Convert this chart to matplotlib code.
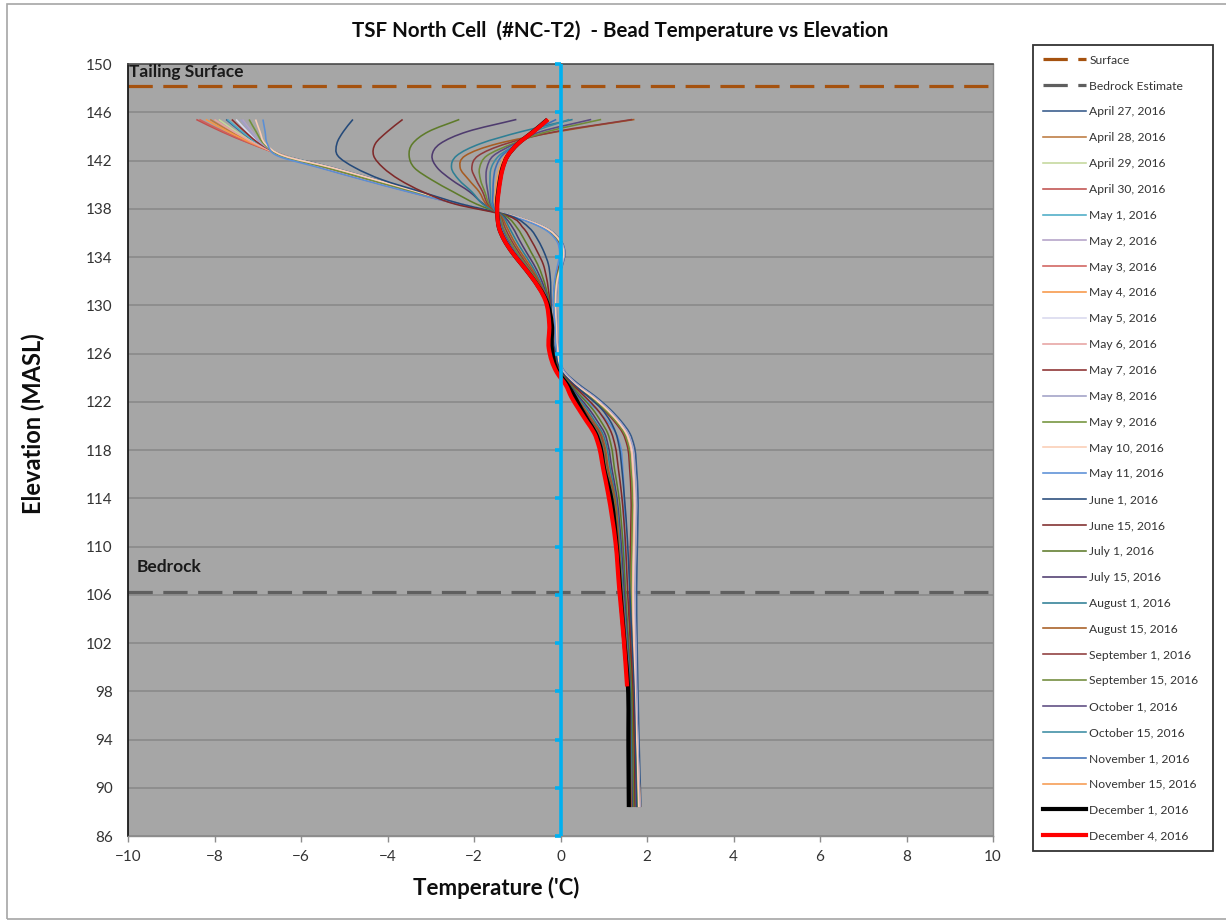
import numpy as np
import matplotlib
matplotlib.use("Agg")
import matplotlib.pyplot as plt
from matplotlib.path import Path
from matplotlib.patches import PathPatch, Rectangle
from matplotlib.lines import Line2D

plt.rcParams['font.family'] = ['Lato', 'DejaVu Sans']

# ---------------------------------------------------------------- data
# Thermistor bead elevations (m above sea level), top to bottom
elevation = [145.4, 144.4, 143.4, 142.4, 141.4, 140.4, 139.4, 138.4,
             137.4, 136.4, 135.4, 134.4, 133.4, 132.4, 130.4, 128.4, 126.4,
             124.4, 123.4, 122.4, 121.4, 120.4, 119.4, 118.4, 116.4, 114.4,
             110.4, 106.4, 102.4, 98.4, 93.4, 88.4]

surface_elev = 148.2
bedrock_elev = 106.25

# Bead temperatures (deg C) for each reading date
apr27 = [-7.73, -7.39, -7.00, -6.37, -5.26, -4.26, -3.28, -2.33, -1.08, -0.33, 0.00, 0.10, 0.05, -0.04, -0.10, -0.08, -0.05,
         0.12, 0.44, 0.82, 1.14, 1.40, 1.60, 1.70, 1.76, 1.79, 1.78, 1.76, 1.77, 1.79, 1.82, 1.86]
apr28 = [-8.10, -7.63, -7.09, -6.40, -5.45, -4.45, -3.43, -2.37, -1.11, -0.36, -0.04, 0.06, 0.01, -0.07, -0.13, -0.11, -0.08,
         0.08, 0.38, 0.76, 1.08, 1.34, 1.54, 1.64, 1.70, 1.73, 1.72, 1.70, 1.72, 1.74, 1.78, 1.82]
apr29 = [-7.90, -7.50, -7.04, -6.38, -5.32, -4.32, -3.32, -2.34, -1.10, -0.35, -0.02, 0.07, 0.02, -0.06, -0.12, -0.10, -0.07,
         0.07, 0.36, 0.74, 1.06, 1.32, 1.52, 1.62, 1.68, 1.71, 1.70, 1.68, 1.70, 1.72, 1.77, 1.81]
apr30 = [-8.42, -7.84, -7.17, -6.41, -5.53, -4.53, -3.48, -2.38, -1.12, -0.37, -0.05, 0.05, 0.00, -0.08, -0.14, -0.12, -0.09,
         0.06, 0.34, 0.72, 1.04, 1.30, 1.50, 1.60, 1.66, 1.69, 1.68, 1.66, 1.68, 1.70, 1.76, 1.80]
may01 = [-7.70, -7.37, -6.99, -6.42, -5.39, -4.39, -3.38, -2.36, -1.11, -0.36, -0.03, 0.06, 0.01, -0.07, -0.13, -0.11, -0.08,
         0.05, 0.32, 0.70, 1.02, 1.28, 1.48, 1.58, 1.64, 1.67, 1.66, 1.64, 1.66, 1.68, 1.75, 1.79]
may02 = [-7.35, -7.14, -6.90, -6.41, -5.30, -4.30, -3.31, -2.35, -1.10, -0.35, -0.03, 0.07, 0.02, -0.06, -0.12, -0.10, -0.07,
         0.08, 0.37, 0.75, 1.07, 1.33, 1.53, 1.63, 1.69, 1.72, 1.71, 1.69, 1.71, 1.73, 1.77, 1.82]
may03 = [-8.35, -7.79, -7.15, -6.41, -5.52, -4.52, -3.48, -2.39, -1.13, -0.38, -0.06, 0.04, -0.01, -0.09, -0.15, -0.12, -0.09,
         0.04, 0.30, 0.68, 1.00, 1.26, 1.46, 1.56, 1.62, 1.65, 1.64, 1.62, 1.64, 1.66, 1.74, 1.78]
may04 = [-8.20, -7.69, -7.11, -6.40, -5.46, -4.46, -3.43, -2.37, -1.11, -0.36, -0.04, 0.06, 0.01, -0.07, -0.13, -0.11, -0.08,
         0.07, 0.35, 0.73, 1.05, 1.31, 1.51, 1.61, 1.67, 1.70, 1.69, 1.67, 1.69, 1.71, 1.78, 1.85]
may05 = [-7.50, -7.24, -6.94, -6.41, -5.33, -4.33, -3.33, -2.34, -1.09, -0.34, -0.02, 0.08, 0.03, -0.05, -0.11, -0.09, -0.06,
         0.09, 0.39, 0.77, 1.09, 1.35, 1.55, 1.65, 1.71, 1.74, 1.73, 1.71, 1.73, 1.75, 1.79, 1.83]
may06 = [-8.00, -7.56, -7.06, -6.43, -5.48, -4.48, -3.45, -2.37, -1.11, -0.36, -0.04, 0.06, 0.01, -0.07, -0.13, -0.11, -0.08,
         0.06, 0.33, 0.71, 1.03, 1.29, 1.49, 1.59, 1.65, 1.68, 1.67, 1.65, 1.67, 1.69, 1.75, 1.80]
may07 = [-7.60, -7.30, -6.96, -6.41, -5.39, -4.39, -3.39, -2.38, -1.13, -0.38, -0.06, 0.03, -0.02, -0.10, -0.16, -0.13, -0.10,
         0.03, 0.28, 0.66, 0.98, 1.24, 1.44, 1.54, 1.60, 1.63, 1.62, 1.60, 1.62, 1.64, 1.73, 1.77]
may08 = [-7.40, -7.17, -6.91, -6.41, -5.31, -4.31, -3.32, -2.34, -1.09, -0.34, -0.01, 0.09, 0.04, -0.04, -0.10, -0.08, -0.05,
         0.11, 0.40, 0.78, 1.10, 1.36, 1.56, 1.66, 1.72, 1.75, 1.74, 1.72, 1.74, 1.76, 1.79, 1.84]
may09 = [-7.20, -7.04, -6.86, -6.46, -5.41, -4.41, -3.39, -2.36, -1.12, -0.37, -0.05, 0.05, 0.00, -0.08, -0.14, -0.12, -0.09,
         0.05, 0.31, 0.69, 1.01, 1.27, 1.47, 1.57, 1.63, 1.66, 1.65, 1.63, 1.65, 1.67, 1.74, 1.78]
may10 = [-7.05, -6.95, -6.83, -6.41, -5.28, -4.28, -3.30, -2.35, -1.10, -0.35, -0.03, 0.07, 0.02, -0.06, -0.12, -0.10, -0.07,
         0.07, 0.36, 0.74, 1.06, 1.32, 1.52, 1.62, 1.68, 1.71, 1.70, 1.68, 1.70, 1.72, 1.77, 1.81]
may11 = [-6.88, -6.83, -6.78, -6.55, -5.57, -4.57, -3.52, -2.39, -1.15, -0.42, -0.10, -0.02, -0.06, -0.12, -0.16, -0.13, -0.10,
         0.00, 0.20, 0.50, 0.82, 1.08, 1.28, 1.38, 1.44, 1.47, 1.48, 1.50, 1.55, 1.60, 1.68, 1.74]
jun01 = [-4.80, -5.02, -5.17, -5.15, -4.75, -4.12, -3.22, -2.30, -1.15, -0.72, -0.52, -0.38, -0.28, -0.24, -0.22, -0.20, -0.14,
         0.05, 0.32, 0.65, 0.95, 1.15, 1.28, 1.35, 1.42, 1.47, 1.55, 1.60, 1.65, 1.70, 1.73, 1.76]
jun15 = [-3.65, -4.00, -4.28, -4.32, -4.10, -3.72, -3.18, -2.45, -1.21, -0.86, -0.68, -0.53, -0.40, -0.33, -0.25, -0.21, -0.17,
         0.02, 0.28, 0.57, 0.84, 1.04, 1.18, 1.26, 1.34, 1.41, 1.50, 1.55, 1.61, 1.67, 1.70, 1.72]
jul01 = [-2.34, -3.05, -3.42, -3.50, -3.38, -2.98, -2.48, -1.95, -1.27, -1.00, -0.83, -0.68, -0.53, -0.42, -0.27, -0.22, -0.19,
         0.00, 0.24, 0.49, 0.74, 0.93, 1.09, 1.17, 1.25, 1.34, 1.44, 1.50, 1.57, 1.64, 1.67, 1.69]
jul15 = [-1.02, -2.15, -2.78, -2.97, -2.85, -2.52, -2.10, -1.78, -1.32, -1.10, -0.95, -0.79, -0.62, -0.48, -0.29, -0.23, -0.21,
         -0.02, 0.21, 0.43, 0.66, 0.85, 1.02, 1.10, 1.19, 1.29, 1.40, 1.47, 1.55, 1.61, 1.64, 1.66]
aug01 = [0.28, -0.90, -1.85, -2.40, -2.52, -2.35, -2.05, -1.80, -1.35, -1.18, -1.03, -0.86, -0.68, -0.53, -0.30, -0.24, -0.22,
         -0.03, 0.19, 0.39, 0.61, 0.79, 0.97, 1.06, 1.15, 1.26, 1.37, 1.44, 1.53, 1.60, 1.63, 1.64]
aug15 = [1.71, -0.05, -1.45, -2.20, -2.32, -2.12, -1.88, -1.72, -1.38, -1.23, -1.09, -0.92, -0.73, -0.56, -0.31, -0.24, -0.23,
         -0.04, 0.17, 0.36, 0.56, 0.75, 0.93, 1.02, 1.11, 1.24, 1.35, 1.42, 1.51, 1.58, 1.61, 1.63]
sep01 = [1.66, -0.10, -1.25, -1.90, -2.05, -1.95, -1.80, -1.68, -1.40, -1.28, -1.14, -0.97, -0.78, -0.59, -0.32, -0.25, -0.24,
         -0.05, 0.16, 0.33, 0.53, 0.71, 0.90, 0.99, 1.08, 1.21, 1.33, 1.41, 1.50, 1.57, 1.60, 1.62]
sep15 = [0.94, -0.30, -1.10, -1.70, -1.87, -1.85, -1.75, -1.65, -1.41, -1.32, -1.18, -1.01, -0.81, -0.61, -0.33, -0.25, -0.25,
         -0.06, 0.15, 0.31, 0.50, 0.68, 0.87, 0.97, 1.06, 1.20, 1.32, 1.40, 1.49, 1.56, 1.59, 1.61]
oct01 = [0.71, -0.45, -1.05, -1.55, -1.70, -1.72, -1.68, -1.62, -1.43, -1.35, -1.22, -1.05, -0.84, -0.64, -0.34, -0.25, -0.26,
         -0.07, 0.14, 0.29, 0.47, 0.66, 0.85, 0.95, 1.04, 1.18, 1.31, 1.38, 1.48, 1.56, 1.59, 1.60]
oct15 = [0.20, -0.60, -1.00, -1.42, -1.60, -1.63, -1.62, -1.60, -1.44, -1.37, -1.25, -1.07, -0.86, -0.65, -0.34, -0.26, -0.26,
         -0.07, 0.13, 0.28, 0.46, 0.64, 0.83, 0.93, 1.03, 1.17, 1.30, 1.38, 1.47, 1.55, 1.58, 1.59]
nov01 = [-0.10, -0.65, -0.98, -1.35, -1.50, -1.55, -1.56, -1.56, -1.44, -1.39, -1.26, -1.08, -0.87, -0.66, -0.34, -0.26, -0.26,
         -0.07, 0.13, 0.27, 0.45, 0.63, 0.82, 0.92, 1.02, 1.17, 1.29, 1.37, 1.47, 1.55, 1.58, 1.59]
nov15 = [-0.25, -0.68, -0.98, -1.28, -1.40, -1.47, -1.50, -1.52, -1.45, -1.40, -1.28, -1.10, -0.88, -0.67, -0.35, -0.26, -0.27,
         -0.08, 0.13, 0.26, 0.44, 0.62, 0.81, 0.91, 1.01, 1.16, 1.29, 1.37, 1.46, 1.55, 1.58, 1.59]
dec01 = [-0.30, -0.63, -0.98, -1.22, -1.34, -1.40, -1.44, -1.47, -1.46, -1.42, -1.30, -1.12, -0.90, -0.68, -0.33, -0.20, -0.20,
         -0.05, 0.16, 0.33, 0.48, 0.64, 0.81, 0.91, 1.01, 1.15, 1.29, 1.38, 1.47, 1.56, 1.57, 1.58]
dec04 = [-0.29, -0.62, -0.98, -1.22, -1.33, -1.39, -1.43, -1.46, -1.46, -1.42, -1.30, -1.12, -0.90, -0.68, -0.35, -0.26, -0.27,
         -0.08, 0.12, 0.25, 0.42, 0.60, 0.78, 0.88, 0.99, 1.10, 1.27, 1.36, 1.46, 1.54, None, None]

dates = ["April 27, 2016", "April 28, 2016", "April 29, 2016", "April 30, 2016",
         "May 1, 2016", "May 2, 2016", "May 3, 2016", "May 4, 2016", "May 5, 2016",
         "May 6, 2016", "May 7, 2016", "May 8, 2016", "May 9, 2016", "May 10, 2016",
         "May 11, 2016", "June 1, 2016", "June 15, 2016", "July 1, 2016",
         "July 15, 2016", "August 1, 2016", "August 15, 2016", "September 1, 2016",
         "September 15, 2016", "October 1, 2016", "October 15, 2016",
         "November 1, 2016", "November 15, 2016", "December 1, 2016",
         "December 4, 2016"]
readings = [apr27, apr28, apr29, apr30, may01, may02, may03, may04, may05, may06,
            may07, may08, may09, may10, may11, jun01, jun15, jul01, jul15, aug01,
            aug15, sep01, sep15, oct01, oct15, nov01, nov15, dec01, dec04]

x_ticks = list(range(-10, 11, 2))
y_ticks = list(range(86, 151, 4))

# ---------------------------------------------------------------- style
colors = ["#34598A", "#BC7A3F", "#C4D79B", "#C0504D", "#4BACC6", "#B3A2C7",
          "#D0605C", "#F79646", "#D9D9EE", "#E6A3A2", "#8B2E2E", "#A0A0C6",
          "#72923A", "#FBCDB4", "#5A8FD6", "#254A7A", "#7F2A2A", "#5E7B2A",
          "#4E3B6E", "#2E7F95", "#A75C22", "#8E3B3B", "#6F8A3A", "#5B4A80",
          "#3B8CA3", "#3F6FB5", "#F59A50", "#000000", "#FF0000"]
widths = [1.15] * 27 + [3.0, 3.0]

W, H = 1226, 922
fig = plt.figure(figsize=(W / 100, H / 100), dpi=100)
fig.patch.set_facecolor("white")
fig.patches.append(Rectangle((7 / W, 3 / H), 1.2, 1 - 7 / H, transform=fig.transFigure,
                             fill=False, edgecolor="#A6A6A6", lw=1.2))

ax = fig.add_axes([128 / W, 86 / H, (993 - 128) / W, (836 - 64) / H])
ax.set_facecolor("#A6A6A6")
ax.set_xlim(-10, 10)
ax.set_ylim(86, 150)
ax.set_xticks(x_ticks)
ax.set_yticks(y_ticks)
ax.yaxis.grid(True, color="#8A8A8A", lw=1.2)
ax.set_axisbelow(True)

for side, col, lw in [("left", "#1A1A1A", 1.3), ("top", "#4D4D4D", 1.2),
                      ("right", "#8C8C8C", 1.0), ("bottom", "#8C8C8C", 1.0)]:
    ax.spines[side].set_color(col)
    ax.spines[side].set_linewidth(lw)

ax.tick_params(axis="y", length=0, pad=11, labelsize=11, labelcolor="#333333")
ax.tick_params(axis="x", direction="out", length=4, width=1, color="#8C8C8C",
               pad=6, labelsize=11, labelcolor="#333333")


def smooth_path(temps, elevs):
    """Smoothed profile through the bead readings (cubic Hermite in elevation)."""
    pts = [(t, e) for t, e in zip(temps, elevs) if t is not None]
    x = np.array([p[0] for p in pts], dtype=float)
    e = np.array([p[1] for p in pts], dtype=float)
    n = len(x)
    h = np.diff(e)
    d = np.diff(x) / h
    m = np.empty(n)
    m[0], m[-1] = d[0], d[-1]
    for i in range(1, n - 1):
        m[i] = (h[i] * d[i - 1] + h[i - 1] * d[i]) / (h[i - 1] + h[i])
    verts = [(x[0], e[0])]
    codes = [Path.MOVETO]
    for i in range(n - 1):
        s = h[i] / 3.0
        verts += [(x[i] + m[i] * s, e[i] + s),
                  (x[i + 1] - m[i + 1] * s, e[i + 1] - s),
                  (x[i + 1], e[i + 1])]
        codes += [Path.CURVE4] * 3
    return Path(verts, codes)


surface_style = dict(color="#A5520F", lw=2.3, dashes=(7.6, 3.3))
bedrock_style = dict(color="#5F5F5F", lw=2.3, dashes=(7.6, 3.3))
ax.axhline(surface_elev, zorder=2, **surface_style)
ax.axhline(bedrock_elev, zorder=2, **bedrock_style)

handles = [Line2D([], [], **surface_style), Line2D([], [], **bedrock_style)]
labels = ["Surface", "Bedrock Estimate"]
for temps, lab, col, lw in zip(readings, dates, colors, widths):
    ax.add_patch(PathPatch(smooth_path(temps, elevation), facecolor="none",
                           edgecolor=col, lw=lw, capstyle="butt", joinstyle="round",
                           zorder=3))
    handles.append(Line2D([], [], color=col, lw=lw))
    labels.append(lab)

# vertical axis line at 0 degC with small tick marks on its left side
ax.axvline(0, color="#00B0F0", lw=2.6, zorder=6)
ax.plot([0] * len(y_ticks), y_ticks, linestyle="none", marker=0, markersize=4,
        markeredgewidth=2.6, color="#00B0F0", zorder=6, clip_on=False)

ax.text(-9.97, 149.3, "Tailing Surface", ha="left", va="center",
        fontsize=12.5, fontweight="bold", color="#1A1A1A", zorder=7)
ax.text(-9.8, 108.3, "Bedrock", ha="left", va="center",
        fontsize=12.5, fontweight="bold", color="#1A1A1A", zorder=7)

fig.text(620 / W, 1 - 31 / H, "TSF North Cell  (#NC-T2)  - Bead Temperature vs Elevation",
         ha="center", va="center", fontsize=14.8, fontweight="bold", color="#0D0D0D")
fig.text(496 / W, 1 - 888 / H, "Temperature ('C)", ha="center", va="center",
         fontsize=16, fontweight="bold", color="#0D0D0D")
fig.text(33 / W, 1 - 424 / H, "Elevation (MASL)", ha="center", va="center",
         rotation=90, fontsize=17, fontweight="bold", color="#0D0D0D")

leg = fig.legend(handles, labels, loc="upper left",
                 bbox_to_anchor=(1033 / W, 1 - 848 / H, 180 / W, 803 / H),
                 mode="expand", borderaxespad=0, fancybox=False, frameon=True,
                 fontsize=8.7, handlelength=3.56, handletextpad=0.3,
                 labelspacing=1.23, borderpad=0.8, labelcolor="#333333")
leg.get_frame().set_edgecolor("#000000")
leg.get_frame().set_linewidth(1.3)

fig.savefig("out.png", dpi=100, facecolor="white")
